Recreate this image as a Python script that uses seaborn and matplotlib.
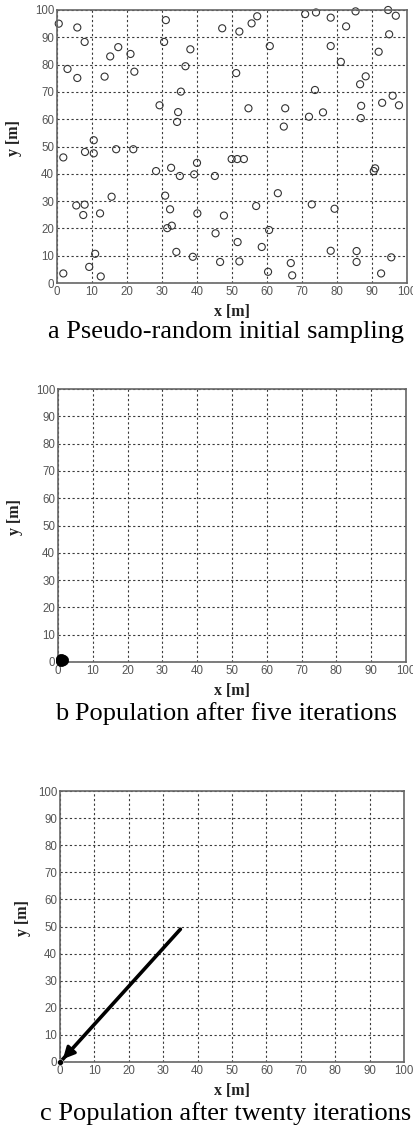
import numpy as np
import pandas as pd
import matplotlib
matplotlib.use("Agg")
import matplotlib.pyplot as plt
import seaborn as sns

# panel a: pseudo-random initial sampling
a_x = [0.5, 5.8, 7.9, 3.0, 5.8, 13.6, 15.2, 17.5, 21.0, 22.1, 31.1, 30.6, 29.3, 35.4,
       34.6, 34.3, 36.7, 38.1, 10.5, 47.2, 52.1, 55.6, 57.2, 60.8, 70.9, 74.0, 78.2,
       82.6, 85.3, 94.6, 96.8, 94.9, 91.9, 78.2, 81.1, 51.2, 73.7, 88.2, 86.6, 54.7,
       65.2, 64.8, 72.0, 76.0, 86.9, 86.8, 92.9, 95.9, 97.7, 1.8, 8.0, 10.5, 16.9,
       21.8, 28.3, 32.6, 35.1, 39.2, 40.0, 15.6, 5.5, 7.9, 7.5, 12.3, 30.9, 32.3,
       40.1, 31.5, 32.8, 10.9, 9.2, 12.5, 1.8, 34.1, 38.8, 49.9, 51.5, 53.4, 45.1,
       63.1, 56.9, 72.8, 79.3, 90.9, 90.5, 47.7, 45.3, 60.6, 51.6, 58.5, 46.6, 52.1,
       60.3, 66.8, 67.2, 78.2, 85.6, 85.6, 92.6, 95.5]
a_y = [95.0, 93.6, 88.3, 78.4, 75.1, 75.6, 83.0, 86.4, 83.9, 77.4, 96.3, 88.3, 65.1, 70.1,
       62.6, 59.0, 79.4, 85.6, 52.3, 93.3, 92.1, 95.1, 97.7, 86.8, 98.5, 99.1, 97.2,
       94.0, 99.5, 100.0, 97.9, 91.1, 84.7, 86.8, 81.0, 76.9, 70.7, 75.7, 72.8, 64.0,
       64.0, 57.3, 60.9, 62.5, 64.9, 60.4, 66.0, 68.6, 65.1, 46.0, 48.0, 47.5, 49.0,
       49.0, 41.0, 42.2, 39.2, 39.8, 44.0, 31.6, 28.4, 28.7, 24.9, 25.5, 32.0, 27.0,
       25.5, 20.1, 21.0, 10.7, 5.9, 2.4, 3.5, 11.4, 9.6, 45.4, 45.4, 45.4, 39.2,
       32.9, 28.2, 28.8, 27.2, 42.0, 41.0, 24.7, 18.2, 19.4, 15.0, 13.2, 7.7, 7.9,
       4.1, 7.3, 2.8, 11.8, 11.7, 7.7, 3.5, 9.4]

# panel b: population collapsed near the origin
b_x = [0.8, 1.2, 1.0, 1.4, 0.9]
b_y = [0.6, 0.9, 0.4, 0.7, 1.0]

# panel c: path of the population (start -> end)
c_x = [35.0, 0.3]
c_y = [49.0, 0.3]

ticks = list(range(0, 101, 10))
captions = ["a Pseudo-random initial sampling",
            "b Population after five iterations",
            "c Population after twenty iterations"]

sns.set_style("white")
tick_fam = ["Liberation Sans Narrow", "Liberation Sans", "DejaVu Sans"]
serif_fam = ["Liberation Serif", "DejaVu Serif"]

fig = plt.figure(figsize=(4.14, 11.31), dpi=100)

W, H = 414.0, 1131.0
# axes boxes in pixels: left, top, right, bottom
boxes = [(57, 10, 407, 283), (58, 389, 406, 662), (60, 791, 404, 1062)]
cap_y = [332, 714, 1114]
axes = []
for (l, t, r, b) in boxes:
    ax = fig.add_axes([l / W, 1 - b / H, (r - l) / W, (b - t) / H])
    axes.append(ax)


def style_axis(ax, ylab_x):
    ax.set_xlim(0, 100)
    ax.set_ylim(0, 100)
    ax.set_xticks(ticks)
    ax.set_yticks(ticks)
    ax.grid(True, color="#3a3a3a", linestyle=(0, (2.0, 2.2)), linewidth=0.8)
    ax.set_axisbelow(True)
    for s in ax.spines.values():
        s.set_color("#666666")
        s.set_linewidth(1.2)
    ax.tick_params(direction="in", length=3, width=0.8, color="#666666",
                   labelsize=8.3, labelcolor="#555555", pad=2)
    for lab in ax.get_xticklabels() + ax.get_yticklabels():
        lab.set_family(tick_fam)
    ax.set_xlabel("x [m]", fontsize=11.5, fontweight="bold", family=serif_fam, color="#222222")
    ax.set_ylabel("y [m]", fontsize=11.5, fontweight="bold", family=serif_fam, color="#222222")
    ax.xaxis.set_label_coords(0.5, -0.078)
    ax.yaxis.set_label_coords(ylab_x, 0.53)


# a
df_a = pd.DataFrame({"x": a_x, "y": a_y})
sns.scatterplot(data=df_a, x="x", y="y", ax=axes[0], marker="o", s=26,
                facecolors="none", edgecolor="#333333", linewidth=0.8, clip_on=False)
style_axis(axes[0], -0.10)

# b
df_b = pd.DataFrame({"x": b_x, "y": b_y})
sns.scatterplot(data=df_b, x="x", y="y", ax=axes[1], marker="o", s=55,
                color="black", edgecolor="black", linewidth=0.5, clip_on=False, zorder=5)
style_axis(axes[1], -0.10)

# c
df_c = pd.DataFrame({"x": c_x, "y": c_y})
sns.lineplot(data=df_c, x="x", y="y", ax=axes[2], sort=False, color="black",
             linewidth=2.6, zorder=4)
axes[2].annotate("", xy=(c_x[-1], c_y[-1]), xytext=(c_x[-1] + 3.5, c_y[-1] + 4.9),
                 arrowprops=dict(arrowstyle="-|>,head_length=0.7,head_width=0.35",
                                 color="black", lw=2.2), zorder=5, annotation_clip=False)
sns.scatterplot(x=[0.0], y=[0.0], ax=axes[2], color="black", s=18, clip_on=False, zorder=6)
style_axis(axes[2], -0.085)

for (l, t, r, b), cy, txt in zip(boxes, cap_y, captions):
    fig.text(226 / W, 1 - cy / H, txt, ha="center", va="center",
             fontsize=19, family=serif_fam, color="black")

fig.savefig("out.png", dpi=100)
